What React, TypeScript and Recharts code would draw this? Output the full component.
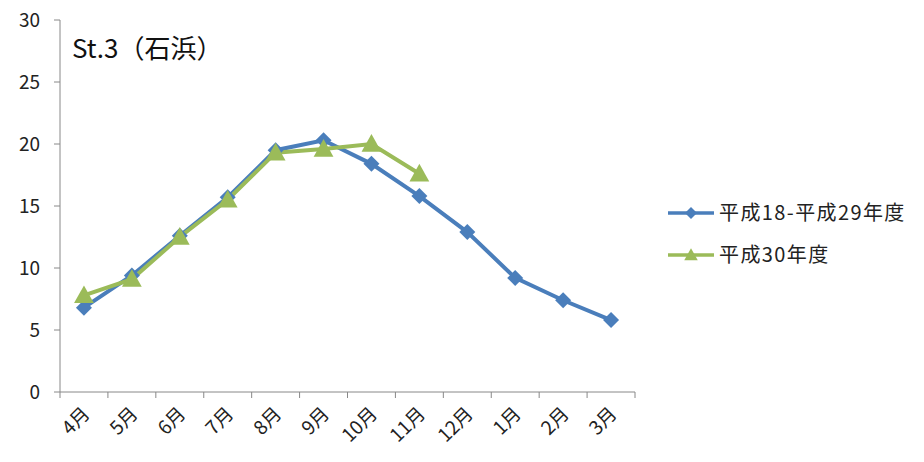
import React from "react";
import { LineChart, Line, XAxis, YAxis } from "recharts";

const months = ["4月", "5月", "6月", "7月", "8月", "9月", "10月", "11月", "12月", "1月", "2月", "3月"];
const avg18to29 = [6.8, 9.4, 12.6, 15.7, 19.5, 20.3, 18.4, 15.8, 12.9, 9.2, 7.4, 5.8];
const fy30 = [7.8, 9.1, 12.5, 15.5, 19.3, 19.6, 20.0, 17.6];
const yTicks = [0, 5, 10, 15, 20, 25, 30];
const xTicks = [0, 1, 2, 3, 4, 5, 6, 7, 8, 9, 10, 11, 12];

const BLUE = "#4A7EBB";
const GREEN = "#9BBB59";
const FONT = "'Noto Sans CJK JP', 'Noto Sans', sans-serif";

const data = months.map((m, i) => ({
  x: i + 0.5,
  month: m,
  avg: avg18to29[i],
  cur: fy30[i] ?? null,
}));

const W = 924;
const H = 462;
const margin = { top: 20, right: 289, left: 0, bottom: 0 };
const BAND = (W - 60 - margin.right) / 12;

const Diamond = (props: any) => {
  const { cx, cy, size = 8 } = props;
  if (cx == null || cy == null) return null;
  const r = size;
  return <path d={`M${cx},${cy - r}L${cx + r},${cy}L${cx},${cy + r}L${cx - r},${cy}Z`} fill={BLUE} />;
};

const Triangle = (props: any) => {
  const { cx, cy, s = 1.1 } = props;
  if (cx == null || cy == null) return null;
  return <path d={`M${cx},${cy - 9 * s}L${cx + 9 * s},${cy + 7 * s}L${cx - 9 * s},${cy + 7 * s}Z`} fill={GREEN} />;
};

const MonthTick = (props: any) => {
  const { x, y, payload } = props;
  const label = months[payload.value];
  if (!label) return null;
  const ax = x + BAND / 2 + 7;
  const ay = y + 15;
  return (
    <text x={ax} y={ay} textAnchor="end" fontSize={19} fontFamily={FONT} fill="#222" transform={`rotate(-45 ${ax} ${ay})`}>
      {label}
    </text>
  );
};

const LegendBox = () => (
  <svg width={256} height={80} style={{ position: "absolute", left: 664, top: 195 }}>
    <line x1={4} y1={18} x2={50} y2={18} stroke={BLUE} strokeWidth={3.5} />
    <Diamond cx={27} cy={18} size={6} />
    <text x={55} y={25} fontSize={20} letterSpacing={1.4} fontFamily={FONT} fill="#222">平成18-平成29年度</text>
    <line x1={4} y1={60} x2={50} y2={60} stroke={GREEN} strokeWidth={3.5} />
    <Triangle cx={27} cy={60} s={0.75} />
    <text x={55} y={67} fontSize={20} letterSpacing={1.4} fontFamily={FONT} fill="#222">平成30年度</text>
  </svg>
);

export default function App() {
  return (
    <div style={{ position: "fixed", left: 0, top: 0, width: W, height: H, background: "#fff" }}>
      <LineChart width={W} height={H} data={data} margin={margin}>
        <XAxis
          dataKey="x"
          type="number"
          domain={[0, 12]}
          ticks={xTicks}
          interval={0}
          tick={<MonthTick />}
          tickLine={{ stroke: "#888" }}
          axisLine={{ stroke: "#888" }}
          tickSize={6}
          height={70}
        />
        <YAxis
          domain={[0, 30]}
          ticks={yTicks}
          width={60}
          tickSize={6}
          tickMargin={14}
          tickLine={{ stroke: "#888" }}
          axisLine={{ stroke: "#888" }}
          tick={{ fontSize: 19, fill: "#222", fontFamily: FONT }}
        />
        <Line
          dataKey="avg"
          name="平成18-平成29年度"
          stroke={BLUE}
          strokeWidth={4}
          dot={<Diamond />}
          activeDot={false}
          isAnimationActive={false}
        />
        <Line
          dataKey="cur"
          name="平成30年度"
          stroke={GREEN}
          strokeWidth={4}
          dot={<Triangle />}
          activeDot={false}
          connectNulls={false}
          isAnimationActive={false}
        />
      </LineChart>
      <LegendBox />
      <div style={{ position: "absolute", left: 72, top: 28, fontSize: 26, fontFamily: FONT, color: "#111" }}>
        St.3（石浜）
      </div>
    </div>
  );
}
